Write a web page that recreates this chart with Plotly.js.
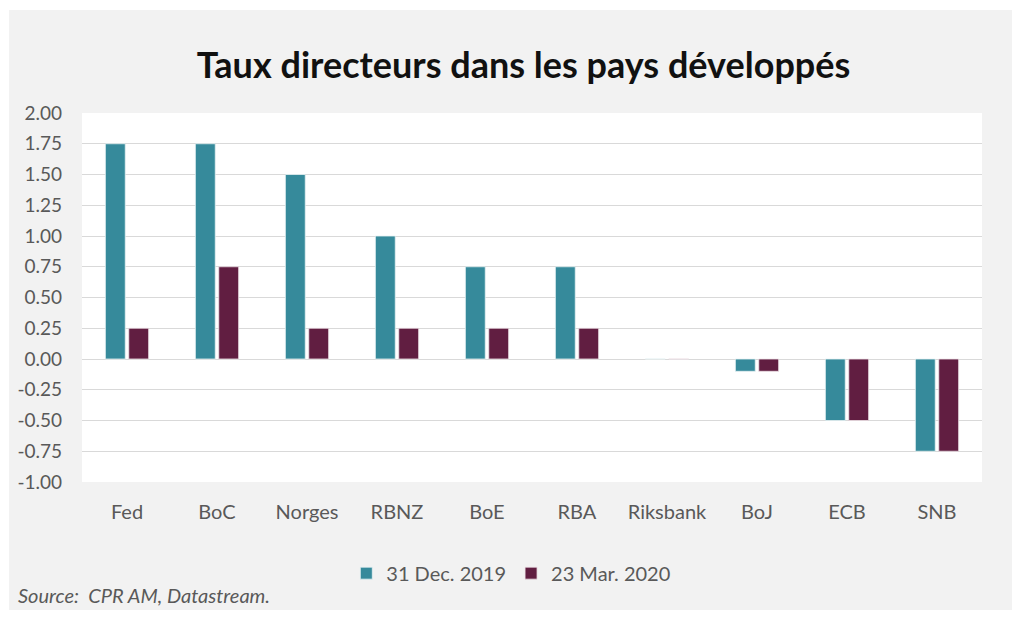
<!DOCTYPE html>
<html><head><meta charset="utf-8">
<script src="https://cdn.plot.ly/plotly-3.0.1.min.js"></script>
<style>html,body{margin:0;padding:0;background:#fff;width:1024px;height:620px;overflow:hidden}
#chart{position:absolute;left:9px;top:10px;width:1003px;height:600px}</style>
</head><body><div id="chart"></div>
<script>
const categories = ["Fed","BoC","Norges","RBNZ","BoE","RBA","Riksbank","BoJ","ECB","SNB"];
const dec2019 = [1.75,1.75,1.50,1.00,0.75,0.75,0.00,-0.10,-0.50,-0.75];
const mar2020 = [0.25,0.75,0.25,0.25,0.25,0.25,0.00,-0.10,-0.50,-0.75];
const seriesNames = ["31 Dec. 2019","23 Mar. 2020"];
const tickVals = [2,1.75,1.5,1.25,1,0.75,0.5,0.25,0,-0.25,-0.5,-0.75,-1];
const tickText = tickVals.map(v => v.toFixed(2));

const font = "Lato, 'Open Sans', sans-serif";
const traces = [
  {type:"bar", x:categories, y:dec2019, name:seriesNames[0], marker:{color:"#368a9b", line:{color:"#e8f2f4", width:0.8}}},
  {type:"bar", x:categories, y:mar2020, name:seriesNames[1], marker:{color:"#611e41", line:{color:"#efe3e9", width:0.8}}}
];
const layout = {
  width:1003, height:600,
  paper_bgcolor:"#f2f2f2", plot_bgcolor:"#ffffff",
  margin:{l:73, r:30, t:103, b:128},
  font:{family:font, color:"#595959", size:20},
  title:{text:"Taux directeurs dans les pays développés", x:0.513, xanchor:"center", y:0.908, yanchor:"middle",
         font:{family:font, size:36, color:"#111111", weight:"bold"}},
  barmode:"group", bargap:0.48, bargroupgap:0.15,
  xaxis:{type:"category", showgrid:false, zeroline:false, showline:false, ticks:"", ticklen:0,
         tickfont:{size:20, color:"#595959"}, ticklabelstandoff:16, automargin:false},
  yaxis:{range:[-1,2], tickvals:tickVals, ticktext:tickText, showgrid:true, gridcolor:"#d9d9d9", gridwidth:1,
         zeroline:true, zerolinecolor:"#d9d9d9", zerolinewidth:1, showline:false, ticks:"",
         tickfont:{size:19, color:"#595959"}, ticklabelstandoff:19, automargin:false},
  legend:{orientation:"h", x:0.477, xanchor:"center", y:-0.247, yanchor:"middle", font:{size:20, color:"#595959"},
          bgcolor:"rgba(0,0,0,0)", traceorder:"normal", itemwidth:30},
  annotations:[{text:"<i>Source:  CPR AM, Datastream.</i>", xref:"paper", yref:"paper", x:-0.073, y:-0.305,
                xanchor:"left", yanchor:"middle", showarrow:false, font:{size:20, color:"#595959"}}],
  showlegend:true
};
Plotly.newPlot("chart", traces, layout, {displayModeBar:false, staticPlot:true});
</script></body></html>
